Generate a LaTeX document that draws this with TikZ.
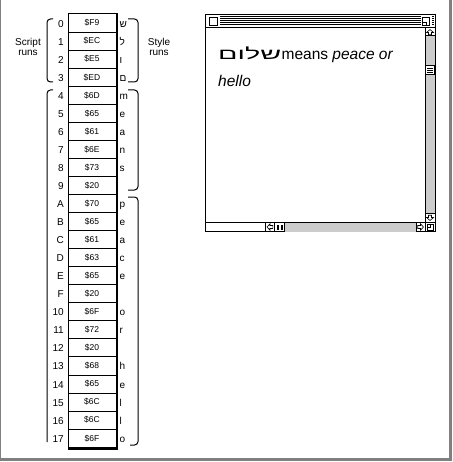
\documentclass[tikz,border=0pt]{standalone}
\usepackage{fontspec}
\setmainfont{Liberation Sans}
\TeXXeTstate=1
\usetikzlibrary{calc}
\definecolor{framegray}{HTML}{808080}
\definecolor{barfill}{HTML}{CCCCCC}
\tikzset{
  idx/.style={anchor=base east, inner sep=0, font=\fontsize{10}{10}\selectfont},
  chr/.style={anchor=base west, inner sep=0, font=\fontsize{10}{10}\selectfont},
  cell/.style={draw, line width=1pt, minimum width=48pt, minimum height=18.05pt, inner sep=0, font=\fontsize{8.5}{9}\selectfont},
  brk/.style={line width=1pt, rounded corners=3.5pt},
  lbl/.style={align=center, inner sep=0, font=\fontsize{10}{10.5}\selectfont},
  win/.style={line width=1pt},
  arr/.style={line width=0.6pt, line join=miter},
  maintext/.style={anchor=base west, inner sep=0, font=\fontsize{15.5}{18}\selectfont}
}
\begin{document}
\begin{tikzpicture}[x=1pt,y=-1pt]
\useasboundingbox (0,0) rectangle (452,462);
% outer frame
\draw[framegray, line width=1pt] (0.5,0) -- (0.5,459);
\draw[framegray, line width=3pt] (0,459.5) -- (450.5,459.5) -- (450.5,0);

% table
\foreach \i/\h/\c [count=\k from 0] in {0/F9/ש,1/EC/ל,2/E5/ו,3/ED/ם,4/6D/m,5/65/e,6/61/a,7/6E/n,8/73/s,9/20/,A/70/p,B/65/e,C/61/a,D/63/c,E/65/e,F/20/,10/6F/o,11/72/r,12/20/,13/68/h,14/65/e,15/6C/l,16/6C/l,17/6F/o}{
  \pgfmathsetmacro\yc{14+18.05*\k+9.025}
  \node[cell] (cell\k) at (92,\yc) {\$\h};
  \node[idx] (idx\k) at (64,\yc+4) {\i};
  \node[chr] (chr\k) at (119.5,\yc+4) {\c};
}
\draw[line width=2pt] ($(cell0.north east)+(0.5,0)$) -- ($(cell23.south east)+(0.5,1)$) -- ($(cell23.south west)+(0,1)$);

% script run brackets
\draw[brk] (53,19) -- (47,19) -- (47,82) -- (53,82);
\draw[brk] (53,90) -- (47,90) -- (47,442);
% style run brackets
\draw[brk] (128,19) -- (138,19) -- (138,82) -- (128,82);
\draw[brk] (128,90) -- (138,90) -- (138,190) -- (128,190);
\draw[brk] (128,197) -- (138,197) -- (138,445) -- (130,445);

\node[lbl] (scriptlbl) at (28,47) {Script\\runs};
\node[lbl] (stylelbl) at (159,47) {Style\\runs};

% window
\fill[white] (205,14.5) rectangle (435.5,231.5);
% title bar stripes
\foreach \s in {17,19,21,23,25}{
  \draw[line width=1pt] (206.5,\s) -- (433.5,\s);
}
\fill[white] (207,15.5) rectangle (220,27);
\draw[line width=1pt] (209.5,17.5) rectangle (217.5,25.5);
\fill[white] (420.5,15.5) rectangle (431.5,27);
\draw[line width=1pt] (422.5,17.5) rectangle (429.5,25.5);
\draw[line width=0.8pt] (422.5,22.5) -- (426.5,22.5) -- (426.5,25.5);
% window border and title bottom
\draw[win] (205.5,14.5) rectangle (435,231.5);
\draw[win] (205.5,28) -- (435,28);
% vertical scroll bar
\fill[barfill] (425,36) rectangle (435,213);
\draw[win] (425,28) -- (425,222.5);
\draw[win] (425,36) -- (435,36);
\draw[win] (425,213) -- (435,213);
\draw[arr] (430,29.5) -- (433.5,32.5) -- (431.5,32.5) -- (431.5,34.8) -- (428.5,34.8) -- (428.5,32.5) -- (426.5,32.5) -- cycle;
\draw[arr] (430,220.5) -- (433.5,217.5) -- (431.5,217.5) -- (431.5,215.2) -- (428.5,215.2) -- (428.5,217.5) -- (426.5,217.5) -- cycle;
\fill[white] (425,66) rectangle (434.5,75);
\draw[win] (425,66) rectangle (434.5,75);
\foreach \s in {68.5,70.5,72.5}{\draw[line width=1pt] (427,\s) -- (432.5,\s);}
% horizontal scroll bar
\fill[barfill] (284.5,222.5) rectangle (416,231.5);
\draw[win] (205.5,222.5) -- (435,222.5);
\draw[win] (265.5,222.5) -- (265.5,231.5);
\draw[win] (274.5,222.5) -- (274.5,231.5);
\draw[win] (284.5,222.5) -- (284.5,231.5);
\draw[win] (416,222.5) -- (416,231.5);
\draw[win] (425,222.5) -- (425,231.5);
\draw[arr] (267,227) -- (270,223.8) -- (270,225.5) -- (272.8,225.5) -- (272.8,228.5) -- (270,228.5) -- (270,230.2) -- cycle;
\draw[arr] (423.5,227) -- (420.5,223.8) -- (420.5,225.5) -- (417.7,225.5) -- (417.7,228.5) -- (420.5,228.5) -- (420.5,230.2) -- cycle;
\fill (277,224.5) rectangle (279.2,229.8);
\fill (280.5,224.5) rectangle (282.7,229.8);
% grow box
\draw[line width=0.7pt] (427,224.5) rectangle (433.5,230);
\draw[line width=0.7pt] (427,224.5) rectangle (430.5,227.5);

% window text
\node[maintext] (heb) at (218,60) {\scalebox{1.85}[1]{\beginR שלום\endR}};
\node[maintext] (line1) at (heb.base east) {means \textit{peace or}};
\node[maintext] (line2) at (218,87) {\textit{hello}};
\end{tikzpicture}
\end{document}
